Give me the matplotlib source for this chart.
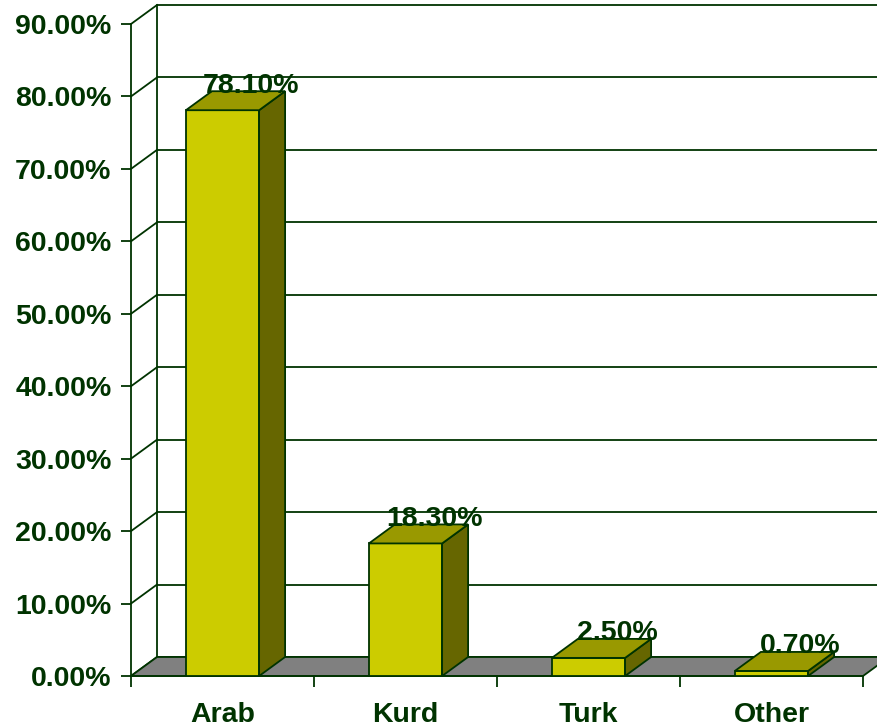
import matplotlib
matplotlib.use("Agg")
import matplotlib.pyplot as plt
from matplotlib.patches import Polygon

categories = ["Arab", "Kurd", "Turk", "Other"]
values = [78.10, 18.30, 2.50, 0.70]
yticks = [0, 10, 20, 30, 40, 50, 60, 70, 80, 90]

DARK = "#003300"
FRONT = "#CCCC00"
TOP = "#999900"
SIDE = "#666600"
FLOOR = "#808080"
FONT = "Liberation Sans"
FS = 20.5
LW = 1.3

W, H = 878, 726
fig = plt.figure(figsize=(W / 100, H / 100), dpi=100)
ax = fig.add_axes([131 / W, 50 / H, 732 / W, 652 / H])
n = len(categories)
ymax = yticks[-1]
ax.set_xlim(0, n)
ax.set_ylim(0, ymax)

# depth offset in data units (26 px right, 19 px up)
DX = 26 / (732 / n)
DY = 19 / (652 / ymax)
BW = 0.4

# back wall gridlines and left wall diagonals
for t in yticks:
    ax.plot([DX, n + DX + 0.5], [t + DY, t + DY], color=DARK, lw=LW,
            clip_on=False, zorder=1, solid_capstyle="butt")
    ax.plot([0, DX], [t, t + DY], color=DARK, lw=LW, clip_on=False, zorder=1)
ax.plot([DX, DX], [DY, ymax + DY], color=DARK, lw=LW, clip_on=False, zorder=1)

# floor
floor = Polygon([(0, 0), (n, 0), (n + DX, DY), (DX, DY)], closed=True,
                facecolor=FLOOR, edgecolor=DARK, lw=LW, clip_on=False, zorder=1.5)
ax.add_patch(floor)

# bars
for i, v in enumerate(values):
    x0 = i + 0.5 - BW / 2
    x1 = i + 0.5 + BW / 2
    front = Polygon([(x0, 0), (x1, 0), (x1, v), (x0, v)], closed=True,
                    facecolor=FRONT, edgecolor=DARK, lw=LW, clip_on=False, zorder=3)
    side = Polygon([(x1, 0), (x1 + DX, DY), (x1 + DX, v + DY), (x1, v)], closed=True,
                   facecolor=SIDE, edgecolor=DARK, lw=LW, clip_on=False, zorder=3)
    top = Polygon([(x0, v), (x1, v), (x1 + DX, v + DY), (x0 + DX, v + DY)], closed=True,
                  facecolor=TOP, edgecolor=DARK, lw=LW, clip_on=False, zorder=3)
    for p in (front, side, top):
        ax.add_patch(p)
    ax.text(i + 0.5 + DX + 0.015, v + DY - 0.2, f"{v:.2f}%", ha="center", va="baseline",
            fontsize=FS, fontweight="bold", color=DARK, family=FONT,
            zorder=4, clip_on=False)

# axes styling
for s in ("top", "right"):
    ax.spines[s].set_visible(False)
for s in ("left", "bottom"):
    ax.spines[s].set_color(DARK)
    ax.spines[s].set_linewidth(LW)
    ax.spines[s].set_zorder(2)

ax.set_yticks(yticks)
ax.set_yticklabels([f"{t:.2f}%" for t in yticks])
ax.tick_params(axis="y", length=7.5, width=LW, color=DARK, pad=6.5,
               labelsize=FS, labelcolor=DARK)

ax.set_xticks(range(n + 1))
ax.set_xticklabels([])
ax.tick_params(axis="x", which="major", length=8, width=LW, color=DARK)
ax.set_xticks([i + 0.5 for i in range(n)], minor=True)
ax.set_xticklabels(categories, minor=True)
ax.tick_params(axis="x", which="minor", length=0, pad=18.5, labelsize=FS,
               labelcolor=DARK)

for lab in ax.get_yticklabels() + ax.get_xticklabels(minor=True):
    lab.set_fontweight("bold")
    lab.set_family(FONT)

ax.patch.set_alpha(0)
fig.savefig("out.png", dpi=100)
